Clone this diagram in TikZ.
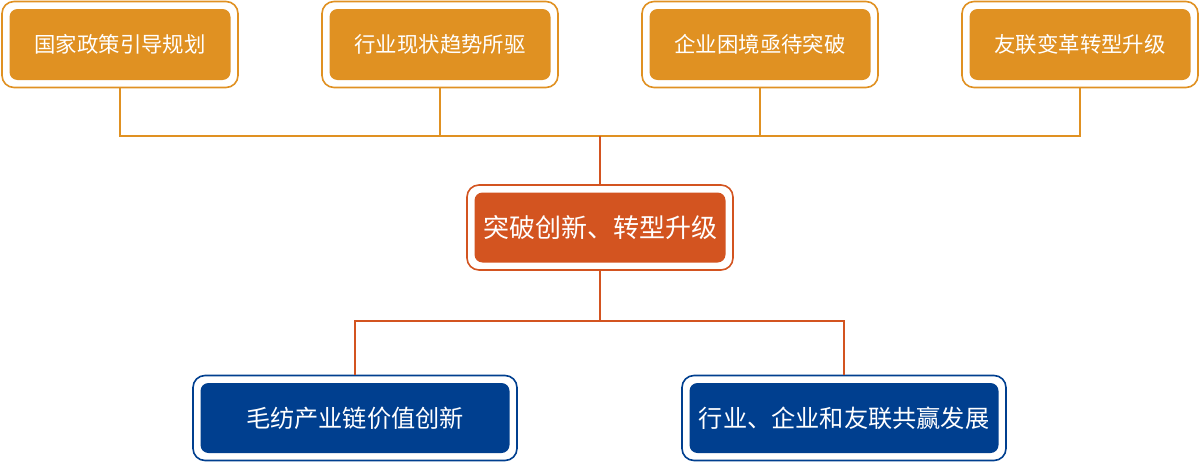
\documentclass[tikz,border=0pt]{standalone}
\usepackage{fontspec}
\newfontfamily\cjk{Noto Sans CJK SC}
\definecolor{orng}{RGB}{224,145,34}
\definecolor{rorng}{RGB}{211,84,32}
\definecolor{nblue}{RGB}{0,63,143}
\tikzset{
  framebox/.style={draw=#1, line width=1.6pt, fill=white, rounded corners=12pt,
    text=white, font=\cjk, inner sep=0pt,
    path picture={\fill[#1, rounded corners=8pt]
      ([shift={(7.5pt,7.5pt)}]path picture bounding box.south west)
      rectangle ([shift={(-7.5pt,-7.5pt)}]path picture bounding box.north east);}},
  topbox/.style={framebox=orng, minimum width=236pt, minimum height=86pt, font=\cjk\fontsize{21.4}{24}\selectfont},
  midbox/.style={framebox=rorng, minimum width=266pt, minimum height=85pt, font=\cjk\fontsize{26}{29}\selectfont},
  botbox/.style={framebox=nblue, minimum width=324pt, minimum height=85pt, font=\cjk\fontsize{24.2}{27}\selectfont},
  oline/.style={draw=orng, line width=1.6pt},
  rline/.style={draw=rorng, line width=1.6pt}
}
\begin{document}
\begin{tikzpicture}[x=1pt,y=-1pt]
\useasboundingbox (0,0) rectangle (1200,463);
\node[topbox] (t1) at (120,44.5) {国家政策引导规划};
\node[topbox] (t2) at (440,44.5) {行业现状趋势所驱};
\node[topbox] (t3) at (760,44.5) {企业困境亟待突破};
\node[topbox] (t4) at (1080,44.5) {友联变革转型升级};
\node[midbox] (c) at (600,227.5) {突破创新、转型升级};
\node[botbox] (b1) at (355,418) {毛纺产业链价值创新};
\node[botbox] (b2) at (844,418) {行业、企业和友联共赢发展};
\coordinate (j) at (600,136);
\coordinate (k) at (600,321);
\draw[oline] (t1.south) |- (j);
\draw[oline] (t4.south) |- (j);
\draw[oline] (t2.south) -- (t2.south |- j);
\draw[oline] (t3.south) -- (t3.south |- j);
\draw[rline] (j) -- (c.north);
\draw[rline] (c.south) -- (k);
\draw[rline] (b1.north) |- (k);
\draw[rline] (b2.north) |- (k);
\end{tikzpicture}
\end{document}
